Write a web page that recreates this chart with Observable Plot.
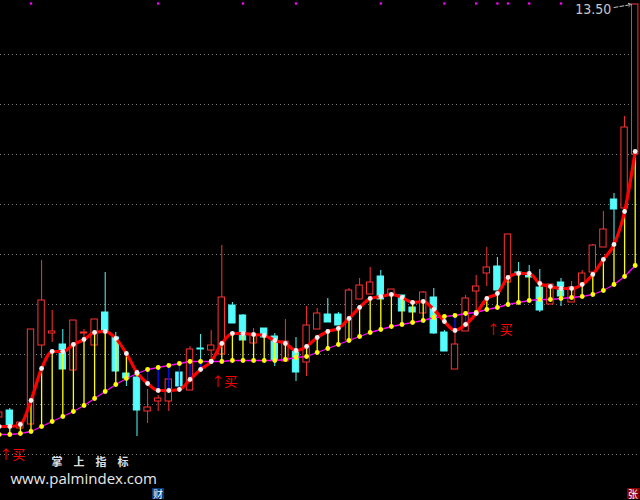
<!DOCTYPE html>
<html>
<head>
<meta charset="utf-8">
<script src="https://cdn.jsdelivr.net/npm/d3@7"></script>
<script src="https://cdn.jsdelivr.net/npm/@observablehq/plot@0.6"></script>
<style>
  html, body { margin: 0; padding: 0; background: #000; }
  #wrap { position: relative; width: 640px; height: 500px; overflow: hidden; }
  .tag { position: absolute; font: 10px "Noto Sans CJK SC", sans-serif; color: #fff; line-height: 11px; width: 12px; height: 11px; text-align: center; }
</style>
</head>
<body>
<div id="wrap"></div>
<script>
// daily bars (index 0 is the partially visible bar at the left edge)
const open  = [9.37,9.44,9.26,9.30,10.09,10.21,10.10,9.84,10.21,10.09,10.42,10.17,9.81,9.77,9.43,9.53,9.53,9.82,9.64,10.06,10.04,10.00,10.49,10.39,10.11,10.26,10.18,9.93,10.03,9.92,10.25,10.40,10.40,10.14,10.55,10.60,10.78,10.59,10.59,10.47,10.41,10.57,10.22,9.85,10.23,10.63,10.81,10.88,10.72,10.82,10.79,10.67,10.50,10.72,10.52,10.70,10.82,11.07,11.55,11.46,12.00];
const close = [9.42,9.28,9.32,10.25,10.54,10.23,9.85,10.34,10.22,10.35,10.23,9.83,9.76,9.44,9.47,9.56,9.75,9.68,10.05,10.05,10.09,10.57,10.31,10.14,10.19,10.17,9.94,10.13,9.82,10.29,10.41,10.32,10.29,10.64,10.69,10.72,10.55,10.65,10.43,10.42,10.62,10.21,10.03,10.10,10.56,10.68,10.87,10.64,11.20,10.80,10.77,10.44,10.70,10.58,10.67,10.81,11.09,11.25,11.45,12.27,13.50];
const high  = [9.45,9.46,9.32,10.25,10.94,10.44,10.25,10.34,10.25,10.35,10.82,10.22,9.81,9.78,9.65,9.59,9.75,9.82,10.08,10.20,10.24,11.09,10.52,10.40,10.26,10.26,10.21,10.35,10.17,10.48,10.46,10.56,10.42,10.66,10.76,10.87,10.84,10.65,10.59,10.53,10.63,10.66,10.24,10.22,10.59,10.79,11.07,10.97,11.20,10.92,10.89,10.85,10.70,10.76,10.73,10.84,11.10,11.43,11.61,12.38,13.50];
const low   = [9.34,9.27,9.26,9.30,9.96,10.12,9.85,9.84,10.12,10.09,10.23,9.82,9.68,9.18,9.31,9.43,9.43,9.68,9.64,9.85,9.93,10.00,10.31,10.14,10.11,10.17,9.88,9.93,9.73,9.78,10.25,10.32,10.29,10.14,10.55,10.60,10.55,10.59,10.43,10.42,10.41,10.20,10.03,9.85,10.23,10.42,10.68,10.64,10.72,10.80,10.77,10.42,10.50,10.48,10.52,10.70,10.82,11.07,11.11,11.46,12.00];
// fast (red) and slow (magenta) indicator lines
const fastLine = [9.28,9.28,9.30,9.54,9.86,10.03,10.03,10.10,10.15,10.22,10.23,10.16,10.01,9.82,9.71,9.64,9.64,9.65,9.75,9.85,9.93,10.11,10.21,10.21,10.20,10.19,10.14,10.11,10.04,10.08,10.17,10.23,10.26,10.36,10.47,10.56,10.58,10.60,10.57,10.52,10.53,10.45,10.33,10.24,10.30,10.41,10.56,10.61,10.77,10.81,10.81,10.71,10.68,10.66,10.66,10.70,10.80,10.95,11.10,11.43,12.03];
const slowLine = [9.20,9.20,9.21,9.23,9.28,9.33,9.38,9.43,9.49,9.56,9.63,9.70,9.76,9.81,9.85,9.87,9.89,9.91,9.93,9.93,9.93,9.93,9.94,9.94,9.94,9.94,9.94,9.95,9.97,9.98,10.02,10.06,10.10,10.14,10.18,10.22,10.25,10.28,10.30,10.32,10.34,10.37,10.38,10.39,10.41,10.42,10.45,10.47,10.50,10.52,10.54,10.55,10.55,10.56,10.57,10.58,10.60,10.64,10.70,10.78,10.89];
// signal bars
const topMarks = [3,15,23,28,36,42,45,47,48,50,53];
const buyBars = [0,20,46];
const buyLabel = "↑买";
const gridPrices = [9,9.5,10,10.5,11,11.5,12,12.5,13];
const maxLabel = "13.50";

const bars = open.map((o, i) => ({i, open: o, close: close[i], high: high[i], low: low[i], fast: fastLine[i], slow: slowLine[i]}));
const up = bars.filter(d => d.close >= d.open);
const down = bars.filter(d => d.close < d.open);
const RED = "#ff3232", CYAN = "#54fcfc";
const half = 0.3;
const maxBar = bars[bars.length - 1];

const chart = Plot.plot({
  width: 640, height: 500, margin: 0,
  style: {background: "#000", overflow: "hidden"},
  x: {type: "linear", domain: [0.1226, 60.5], axis: null},
  y: {domain: [8.54, 13.54], axis: null},
  marks: [
    Plot.ruleY(gridPrices, {stroke: "#808080", strokeDasharray: "1,3", strokeWidth: 1}),
    // wicks
    Plot.ruleX(up, {x: "i", y1: "low", y2: "high", stroke: RED, strokeWidth: 1}),
    Plot.ruleX(down, {x: "i", y1: "low", y2: "high", stroke: CYAN, strokeWidth: 1}),
    // bodies
    Plot.rect(up, {x1: d => d.i - half, x2: d => d.i + half, y1: "open", y2: "close", fill: "#000", stroke: RED, strokeWidth: 1}),
    Plot.rect(down, {x1: d => d.i - half, x2: d => d.i + half, y1: "open", y2: "close", fill: CYAN, stroke: CYAN, strokeWidth: 1}),
    // connectors
    Plot.ruleX(bars, {x: "i", y1: "fast", y2: "slow", stroke: d => d.fast >= d.slow ? "#ffff00" : "#1010ff", strokeWidth: 1.3}),
    Plot.line(bars, {x: "i", y: "slow", stroke: "#ff00ff", strokeWidth: 1.3}),
    Plot.line(bars, {x: "i", y: "fast", stroke: "#ff0000", strokeWidth: 3.2, curve: "monotone-x"}),
    Plot.dot(bars, {x: "i", y: "slow", r: 2.4, fill: "#ffff00"}),
    Plot.dot(bars, {x: "i", y: "fast", r: 2.4, fill: "#f0f0f0"}),
    // top signal markers
    Plot.dot(topMarks, {x: d => d, y: 13.51, symbol: "square", r: 1.3, fill: "#ff00ff"}),
    // buy labels
    Plot.text(buyBars.map(i => bars[i]), {x: "i", y: "slow", dy: 20, text: () => buyLabel, fill: "#ff0000", fontSize: 13, textAnchor: "start", fontFamily: "'Noto Sans CJK SC', sans-serif"}),
    // max price label
    Plot.text([maxBar], {x: "i", y: "high", text: () => maxLabel, dx: -24, dy: 5, textAnchor: "end", fill: "#c8c8c8", fontSize: 14, fontFamily: "'DejaVu Sans Condensed', 'DejaVu Sans', sans-serif"}),
    Plot.arrow([maxBar], {x1: d => d.i - 2.0, y1: d => d.high - 0.03, x2: d => d.i - 0.35, y2: d => d.high, stroke: "#c8c8c8", strokeWidth: 1, strokeDasharray: "4,2", headLength: 5, bend: 0}),
    // watermark
    Plot.text(["掌　上　指　标"], {frameAnchor: "bottom-left", dx: 51, dy: -35, textAnchor: "start", fill: "#e0e0e0", fontSize: 11, fontWeight: "bold", fontFamily: "'Noto Sans CJK SC', sans-serif"}),
    Plot.text(["www.palmindex.com"], {frameAnchor: "bottom-left", dx: 10, dy: -16.5, textAnchor: "start", fill: "#e8e8e8", fontSize: 15, fontFamily: "'Open Sans', sans-serif"})
  ]
});
const wrap = document.getElementById("wrap");
chart.style.position = "absolute"; chart.style.left = "0"; chart.style.top = "0";
wrap.appendChild(chart);
const t1 = document.createElement("div");
t1.className = "tag"; t1.textContent = "财";
t1.style.cssText = "left:152px;top:488px;background:#0a3a7a;";
wrap.appendChild(t1);
const t2 = document.createElement("div");
t2.className = "tag"; t2.textContent = "张";
t2.style.cssText = "left:627px;top:488px;background:#8b0000;";
wrap.appendChild(t2);
</script>
</body>
</html>
